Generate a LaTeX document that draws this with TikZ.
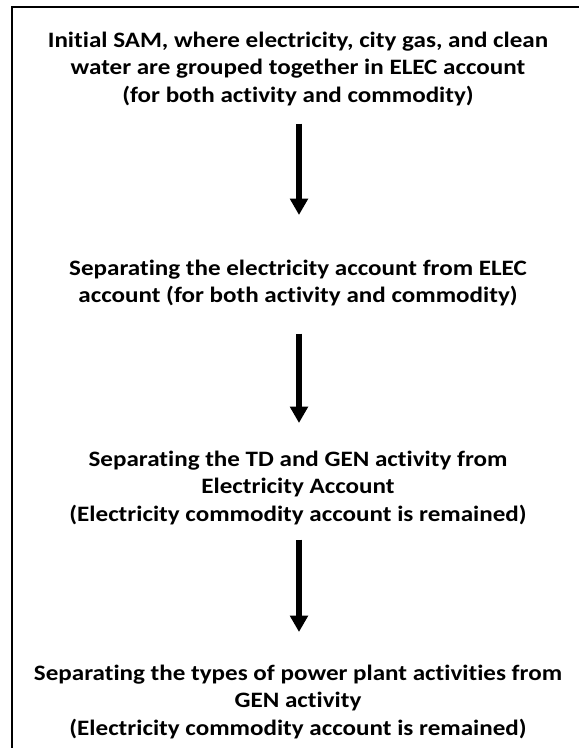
\documentclass[tikz,border=0pt]{standalone}
\usepackage{fontspec}
\setmainfont{Carlito}[FakeStretch=1.14,Ligatures=NoCommon]
\usetikzlibrary{arrows.meta}
\begin{document}
\begin{tikzpicture}[x=1pt,y=-1pt,
  stagetext/.style={inner sep=0pt, anchor=north, align=center,
    font=\fontsize{22}{27.2}\selectfont\bfseries},
  flowarrow/.style={line width=5.6pt,
    -{Triangle[width=17.5pt,length=16.5pt]}},
  frameline/.style={line width=2pt, line cap=rect}]
  \useasboundingbox (0,0) rectangle (579,748);
  % open frame: top edge and left edge only
  \draw[frameline] (579,7) -- (12,7) -- (12,750);
  % process stages
  \node[stagetext] (s1) at (298,32) {Initial SAM, where electricity, city gas, and clean\\
    water are grouped together in ELEC account\\(for both activity and commodity)};
  \node[stagetext] (s2) at (298,260) {Separating the electricity account from ELEC\\
    account (for both activity and commodity)};
  \node[stagetext] (s3) at (298,451) {Separating the TD and GEN activity from\\
    Electricity Account\\(Electricity commodity account is remained)};
  \node[stagetext] (s4) at (298,665) {Separating the types of power plant activities from\\
    GEN activity\\(Electricity commodity account is remained)};
  % arrows between stages
  \draw[flowarrow] ([xshift=1pt]s1.south) ++(0,18) -- ([xshift=1pt,yshift=45pt]s2.north);
  \draw[flowarrow] ([xshift=1pt]s2.south) ++(0,27) -- ([xshift=1pt,yshift=28pt]s3.north);
  \draw[flowarrow] ([xshift=1pt]s3.south) ++(0,15) -- ([xshift=1pt,yshift=33pt]s4.north);
\end{tikzpicture}
\end{document}
